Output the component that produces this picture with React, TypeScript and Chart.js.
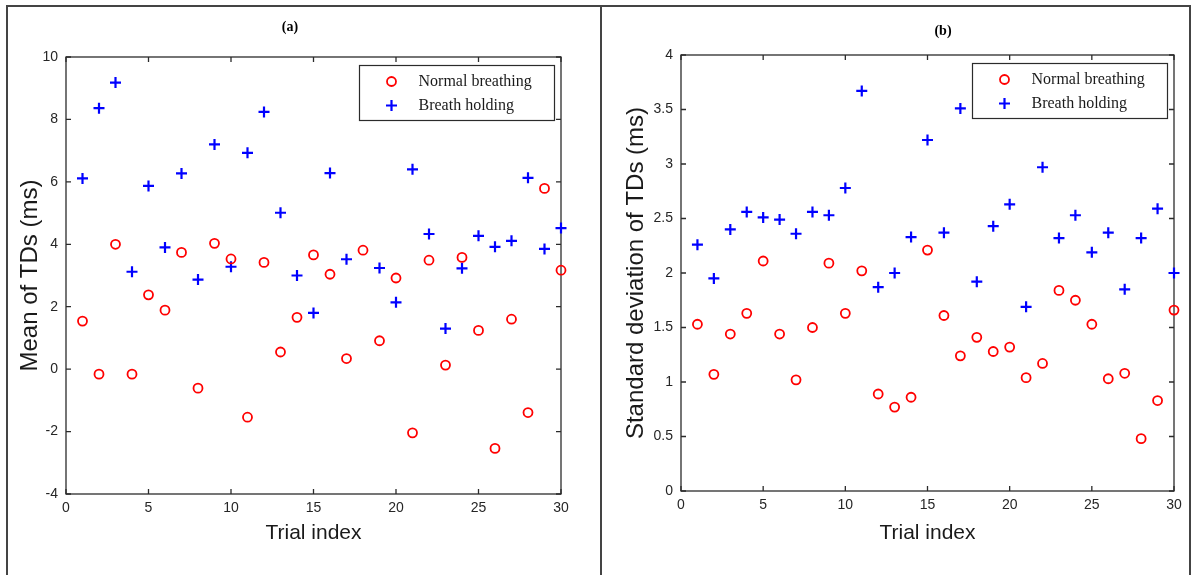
import React, { useEffect, useRef } from "react";
import { Chart, registerables } from "chart.js";

Chart.register(...registerables);

// ---------- data ----------
const trials = [1, 2, 3, 4, 5, 6, 7, 8, 9, 10, 11, 12, 13, 14, 15, 16, 17, 18, 19, 20, 21, 22, 23, 24, 25, 26, 27, 28, 29, 30];

const meanNormal = [1.54, -0.16, 4.0, -0.16, 2.38, 1.89, 3.74, -0.61, 4.03, 3.53, -1.54, 3.42, 0.55, 1.66, 3.66, 3.04, 0.34, 3.81, 0.91, 2.92, -2.04, 3.49, 0.13, 3.58, 1.24, -2.54, 1.6, -1.39, 5.79, 3.17];
const meanHold = [6.11, 8.36, 9.18, 3.12, 5.87, 3.9, 6.27, 2.87, 7.2, 3.28, 6.93, 8.24, 5.01, 3.0, 1.8, 6.28, 3.52, null, 3.24, 2.14, 6.4, 4.33, 1.3, 3.23, 4.27, 3.92, 4.11, 6.13, 3.85, 4.52];

const sdNormal = [1.53, 1.07, 1.44, 1.63, 2.11, 1.44, 1.02, 1.5, 2.09, 1.63, 2.02, 0.89, 0.77, 0.86, 2.21, 1.61, 1.24, 1.41, 1.28, 1.32, 1.04, 1.17, 1.84, 1.75, 1.53, 1.03, 1.08, 0.48, 0.83, 1.66];
const sdHold = [2.26, 1.95, 2.4, 2.56, 2.51, 2.49, 2.36, 2.56, 2.53, 2.78, 3.67, 1.87, 2.0, 2.33, 3.22, 2.37, 3.51, 1.92, 2.43, 2.63, 1.69, 2.97, 2.32, 2.53, 2.19, 2.37, 1.85, 2.32, 2.59, 2.0];

const xTicks = [0, 5, 10, 15, 20, 25, 30];
const meanTicks = [-4, -2, 0, 2, 4, 6, 8, 10];
const sdTicks = [0, 0.5, 1, 1.5, 2, 2.5, 3, 3.5, 4];

const seriesNames = ["Normal breathing", "Breath holding"];
const xTitle = "Trial index";

// ---------- styles ----------
const RED = "#ff0000";
const BLUE = "#0000ff";
const AXIS = "#2b2b2b";
const TICK_TEXT = "#262626";
const SANS = "'Liberation Sans', Arial, sans-serif";
const SERIF = "'Liberation Serif', 'Times New Roman', serif";

type PanelProps = {
  left: number;
  width: number;
  height: number;
  normal: (number | null)[];
  hold: (number | null)[];
  yTicks: number[];
  yTitle: string;
  panelTitle: string;
  titleX: number;
  titleY: number;
  yAxisWidth: number;
  padTop: number;
  padRight: number;
  xAxisHeight: number;
  yTitlePad: number;
};

function toPoints(values: (number | null)[]) {
  return trials.map((t, i) => ({ x: t, y: values[i] }));
}

function Panel(p: PanelProps) {
  const ref = useRef<HTMLCanvasElement | null>(null);

  useEffect(() => {
    const canvas = ref.current;
    if (!canvas) return;

    const framePlugin = {
      id: "matlabFrame",
      beforeDatasetsDraw(chart: any) {
        const { ctx, chartArea } = chart;
        const { left, right, top, bottom } = chartArea;
        const xs = chart.scales.x;
        const ys = chart.scales.y;
        const TL = 5;
        ctx.save();
        ctx.strokeStyle = AXIS;
        ctx.lineWidth = 1.3;
        ctx.strokeRect(left, top, right - left, bottom - top);
        ctx.beginPath();
        xs.ticks.forEach((t: any) => {
          const px = xs.getPixelForValue(t.value);
          ctx.moveTo(px, bottom);
          ctx.lineTo(px, bottom - TL);
          ctx.moveTo(px, top);
          ctx.lineTo(px, top + TL);
        });
        ys.ticks.forEach((t: any) => {
          const py = ys.getPixelForValue(t.value);
          ctx.moveTo(left, py);
          ctx.lineTo(left + TL, py);
          ctx.moveTo(right, py);
          ctx.lineTo(right - TL, py);
        });
        ctx.stroke();
        ctx.restore();
      },
      afterDatasetsDraw(chart: any) {
        const { ctx, chartArea } = chart;
        const { right, top } = chartArea;
        const boxW = 195;
        const boxH = 55;
        const bx = right - 6.5 - boxW;
        const by = top + 8.5;
        ctx.save();
        ctx.fillStyle = "#ffffff";
        ctx.fillRect(bx, by, boxW, boxH);
        ctx.strokeStyle = AXIS;
        ctx.lineWidth = 1.2;
        ctx.strokeRect(bx, by, boxW, boxH);
        const mx = bx + 32;
        const r1 = by + 16;
        const r2 = by + 40;
        ctx.strokeStyle = RED;
        ctx.lineWidth = 1.8;
        ctx.beginPath();
        ctx.arc(mx, r1, 4.5, 0, Math.PI * 2);
        ctx.stroke();
        ctx.strokeStyle = BLUE;
        ctx.lineWidth = 2.2;
        ctx.beginPath();
        ctx.moveTo(mx - 5.5, r2);
        ctx.lineTo(mx + 5.5, r2);
        ctx.moveTo(mx, r2 - 5.5);
        ctx.lineTo(mx, r2 + 5.5);
        ctx.stroke();
        ctx.fillStyle = "#1a1a1a";
        ctx.font = `16px ${SERIF}`;
        ctx.textBaseline = "middle";
        ctx.textAlign = "left";
        ctx.fillText(seriesNames[0], bx + 59, r1);
        ctx.fillText(seriesNames[1], bx + 59, r2);
        ctx.restore();
      },
      afterDraw(chart: any) {
        const { ctx } = chart;
        ctx.save();
        ctx.fillStyle = "#000000";
        ctx.font = `bold 14px ${SERIF}`;
        ctx.textAlign = "center";
        ctx.textBaseline = "middle";
        ctx.fillText(p.panelTitle, p.titleX, p.titleY);
        ctx.restore();
      },
    };

    const chart = new Chart(canvas, {
      type: "scatter",
      data: {
        datasets: [
          {
            label: seriesNames[0],
            data: toPoints(p.normal),
            pointStyle: "circle",
            pointRadius: 4.5,
            pointBorderWidth: 1.8,
            borderColor: RED,
            backgroundColor: "rgba(0,0,0,0)",
            pointBackgroundColor: "rgba(0,0,0,0)",
            clip: false,
          } as any,
          {
            label: seriesNames[1],
            data: toPoints(p.hold),
            pointStyle: "cross",
            pointRadius: 5.5,
            pointBorderWidth: 2.2,
            borderColor: BLUE,
            backgroundColor: BLUE,
            clip: false,
          } as any,
        ],
      },
      options: {
        responsive: false,
        animation: false,
        events: [],
        layout: { padding: { top: p.padTop, right: p.padRight, left: 0, bottom: 0 } },
        plugins: {
          legend: { display: false },
          title: { display: false },
          tooltip: { enabled: false },
        },
        scales: {
          x: {
            type: "linear",
            min: xTicks[0],
            max: xTicks[xTicks.length - 1],
            afterBuildTicks: (s: any) => {
              s.ticks = xTicks.map((v) => ({ value: v }));
            },
            afterFit: (s: any) => {
              s.height = p.xAxisHeight;
            },
            grid: { display: false, drawTicks: false },
            border: { display: false },
            ticks: {
              padding: 6,
              color: TICK_TEXT,
              font: { family: SANS, size: 14 },
              maxRotation: 0,
              callback: (v: any) => String(v),
            },
            title: {
              display: true,
              text: xTitle,
              color: "#1a1a1a",
              font: { family: SANS, size: 21, lineHeight: 1.2 },
              padding: { top: 0, bottom: 29 },
            },
          },
          y: {
            type: "linear",
            min: p.yTicks[0],
            max: p.yTicks[p.yTicks.length - 1],
            afterBuildTicks: (s: any) => {
              s.ticks = p.yTicks.map((v) => ({ value: v }));
            },
            afterFit: (s: any) => {
              s.width = p.yAxisWidth;
            },
            grid: { display: false, drawTicks: false },
            border: { display: false },
            ticks: {
              padding: 8,
              color: TICK_TEXT,
              font: { family: SANS, size: 14 },
              callback: (v: any) => String(v),
            },
            title: {
              display: true,
              text: p.yTitle,
              color: "#1a1a1a",
              font: { family: SANS, size: 24, lineHeight: 1.2 },
              padding: { top: p.yTitlePad, bottom: 0 },
            },
          },
        },
      } as any,
      plugins: [framePlugin],
    });

    return () => {
      chart.destroy();
    };
  }, []);

  return (
    <canvas
      ref={ref}
      width={p.width}
      height={p.height}
      style={{ position: "absolute", left: p.left, top: 0, width: p.width, height: p.height }}
    />
  );
}

export default function App() {
  return (
    <div
      style={{
        position: "fixed",
        left: 0,
        top: 0,
        width: 1194,
        height: 575,
        background: "#ffffff",
        overflow: "hidden",
      }}
    >
      <Panel
        left={0}
        width={600}
        height={575}
        normal={meanNormal}
        hold={meanHold}
        yTicks={meanTicks}
        yTitle="Mean of TDs (ms)"
        panelTitle="(a)"
        titleX={290}
        titleY={27}
        yAxisWidth={66}
        padTop={57}
        padRight={39}
        xAxisHeight={81}
        yTitlePad={16}
      />
      <Panel
        left={600}
        width={594}
        height={575}
        normal={sdNormal}
        hold={sdHold}
        yTicks={sdTicks}
        yTitle="Standard deviation of TDs (ms)"
        panelTitle="(b)"
        titleX={343}
        titleY={31}
        yAxisWidth={81}
        padTop={55}
        padRight={20}
        xAxisHeight={84}
        yTitlePad={22}
      />
      <div
        style={{
          position: "absolute",
          left: 6,
          top: 5,
          width: 596,
          height: 600,
          border: "2px solid #444",
          boxSizing: "border-box",
          pointerEvents: "none",
        }}
      />
      <div
        style={{
          position: "absolute",
          left: 600,
          top: 5,
          width: 591,
          height: 600,
          border: "2px solid #444",
          boxSizing: "border-box",
          pointerEvents: "none",
        }}
      />
    </div>
  );
}
